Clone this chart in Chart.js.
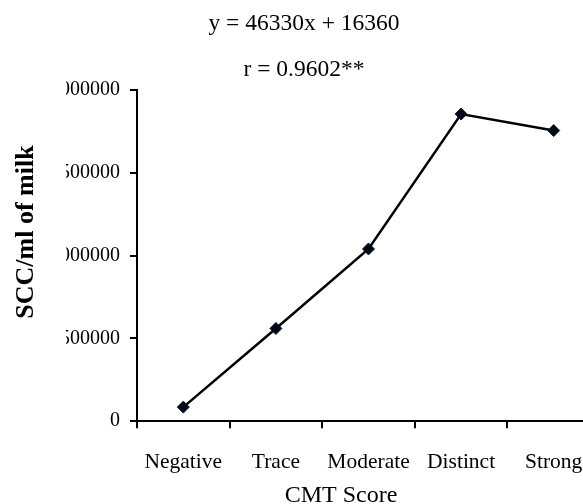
<!DOCTYPE html>
<html>
<head>
<meta charset="utf-8">
<script src="https://cdn.jsdelivr.net/npm/chart.js@4"></script>
<style>
  html, body { margin: 0; padding: 0; background: #fff; overflow: hidden; }
  #wrap { position: relative; width: 583px; height: 504px; overflow: hidden; }
  canvas { position: absolute; left: 0; top: 0; }
</style>
</head>
<body>
<div id="wrap"><canvas id="chart" width="640" height="504"></canvas></div>
<script>
const categories = ["Negative", "Trace", "Moderate", "Distinct", "Strong"];
const sccValues = [85000, 560000, 1040000, 1855000, 1755000];
const yTicks = [0, 500000, 1000000, 1500000, 2000000];
const titleLines = ["y = 46330x + 16360", "r = 0.9602**"];
const xTitle = "CMT Score";
const yTitle = "SCC/ml of milk";

const serif = "'Liberation Serif', 'Times New Roman', serif";

// the source figure is cropped: leading digits of the y labels are cut off,
// and both axis titles sit off the plot centre, so they are drawn here
const cropPlugin = {
  id: "cropPlugin",
  afterDraw(chart) {
    const { ctx, chartArea } = chart;
    ctx.save();
    ctx.fillStyle = "#fff";
    ctx.fillRect(40, chartArea.top - 15, 26, chartArea.bottom - chartArea.top + 30);
    ctx.fillStyle = "#000";
    ctx.textAlign = "center";
    ctx.textBaseline = "middle";
    ctx.font = "24px " + serif;
    ctx.fillText(xTitle, 341, 496);
    ctx.translate(26, 232);
    ctx.rotate(-Math.PI / 2);
    ctx.font = "bold 26px " + serif;
    ctx.fillText(yTitle, 0, 0);
    ctx.restore();
  }
};

new Chart(document.getElementById("chart"), {
  type: "line",
  data: {
    labels: categories,
    datasets: [{
      data: sccValues,
      borderColor: "#000",
      borderWidth: 2.5,
      tension: 0,
      fill: false,
      pointStyle: "rectRot",
      pointRadius: 6,
      pointBackgroundColor: "#000814",
      pointBorderColor: "#0a1430",
      pointBorderWidth: 1
    }]
  },
  options: {
    responsive: false,
    animation: false,
    layout: { padding: { left: 8, right: 40, top: 0, bottom: 8 } },
    plugins: {
      legend: { display: false },
      tooltip: { enabled: false },
      title: {
        display: true,
        text: titleLines,
        color: "#000",
        font: { family: serif, size: 23.5, weight: "normal", lineHeight: 46 / 23.5 },
        padding: { top: 1, bottom: -3 }
      }
    },
    scales: {
      x: {
        offset: true,
        border: { color: "#000", width: 2 },
        grid: { offset: true, drawOnChartArea: false, tickLength: 7, color: "#000", lineWidth: 2 },
        ticks: { color: "#000", padding: 21, maxRotation: 0, font: { family: serif, size: 21.5 } }
      },
      y: {
        min: 0,
        max: 2000000,
        afterBuildTicks: (axis) => { axis.ticks = yTicks.map((v) => ({ value: v })); },
        afterFit: (axis) => { axis.width = 129; },
        border: { color: "#000", width: 2 },
        grid: { drawOnChartArea: false, tickLength: 7, color: "#000", lineWidth: 2 },
        ticks: {
          color: "#000",
          padding: 10,
          font: { family: serif, size: 20 },
          callback: (v) => String(v)
        }
      }
    }
  },
  plugins: [cropPlugin]
});
</script>
</body>
</html>
